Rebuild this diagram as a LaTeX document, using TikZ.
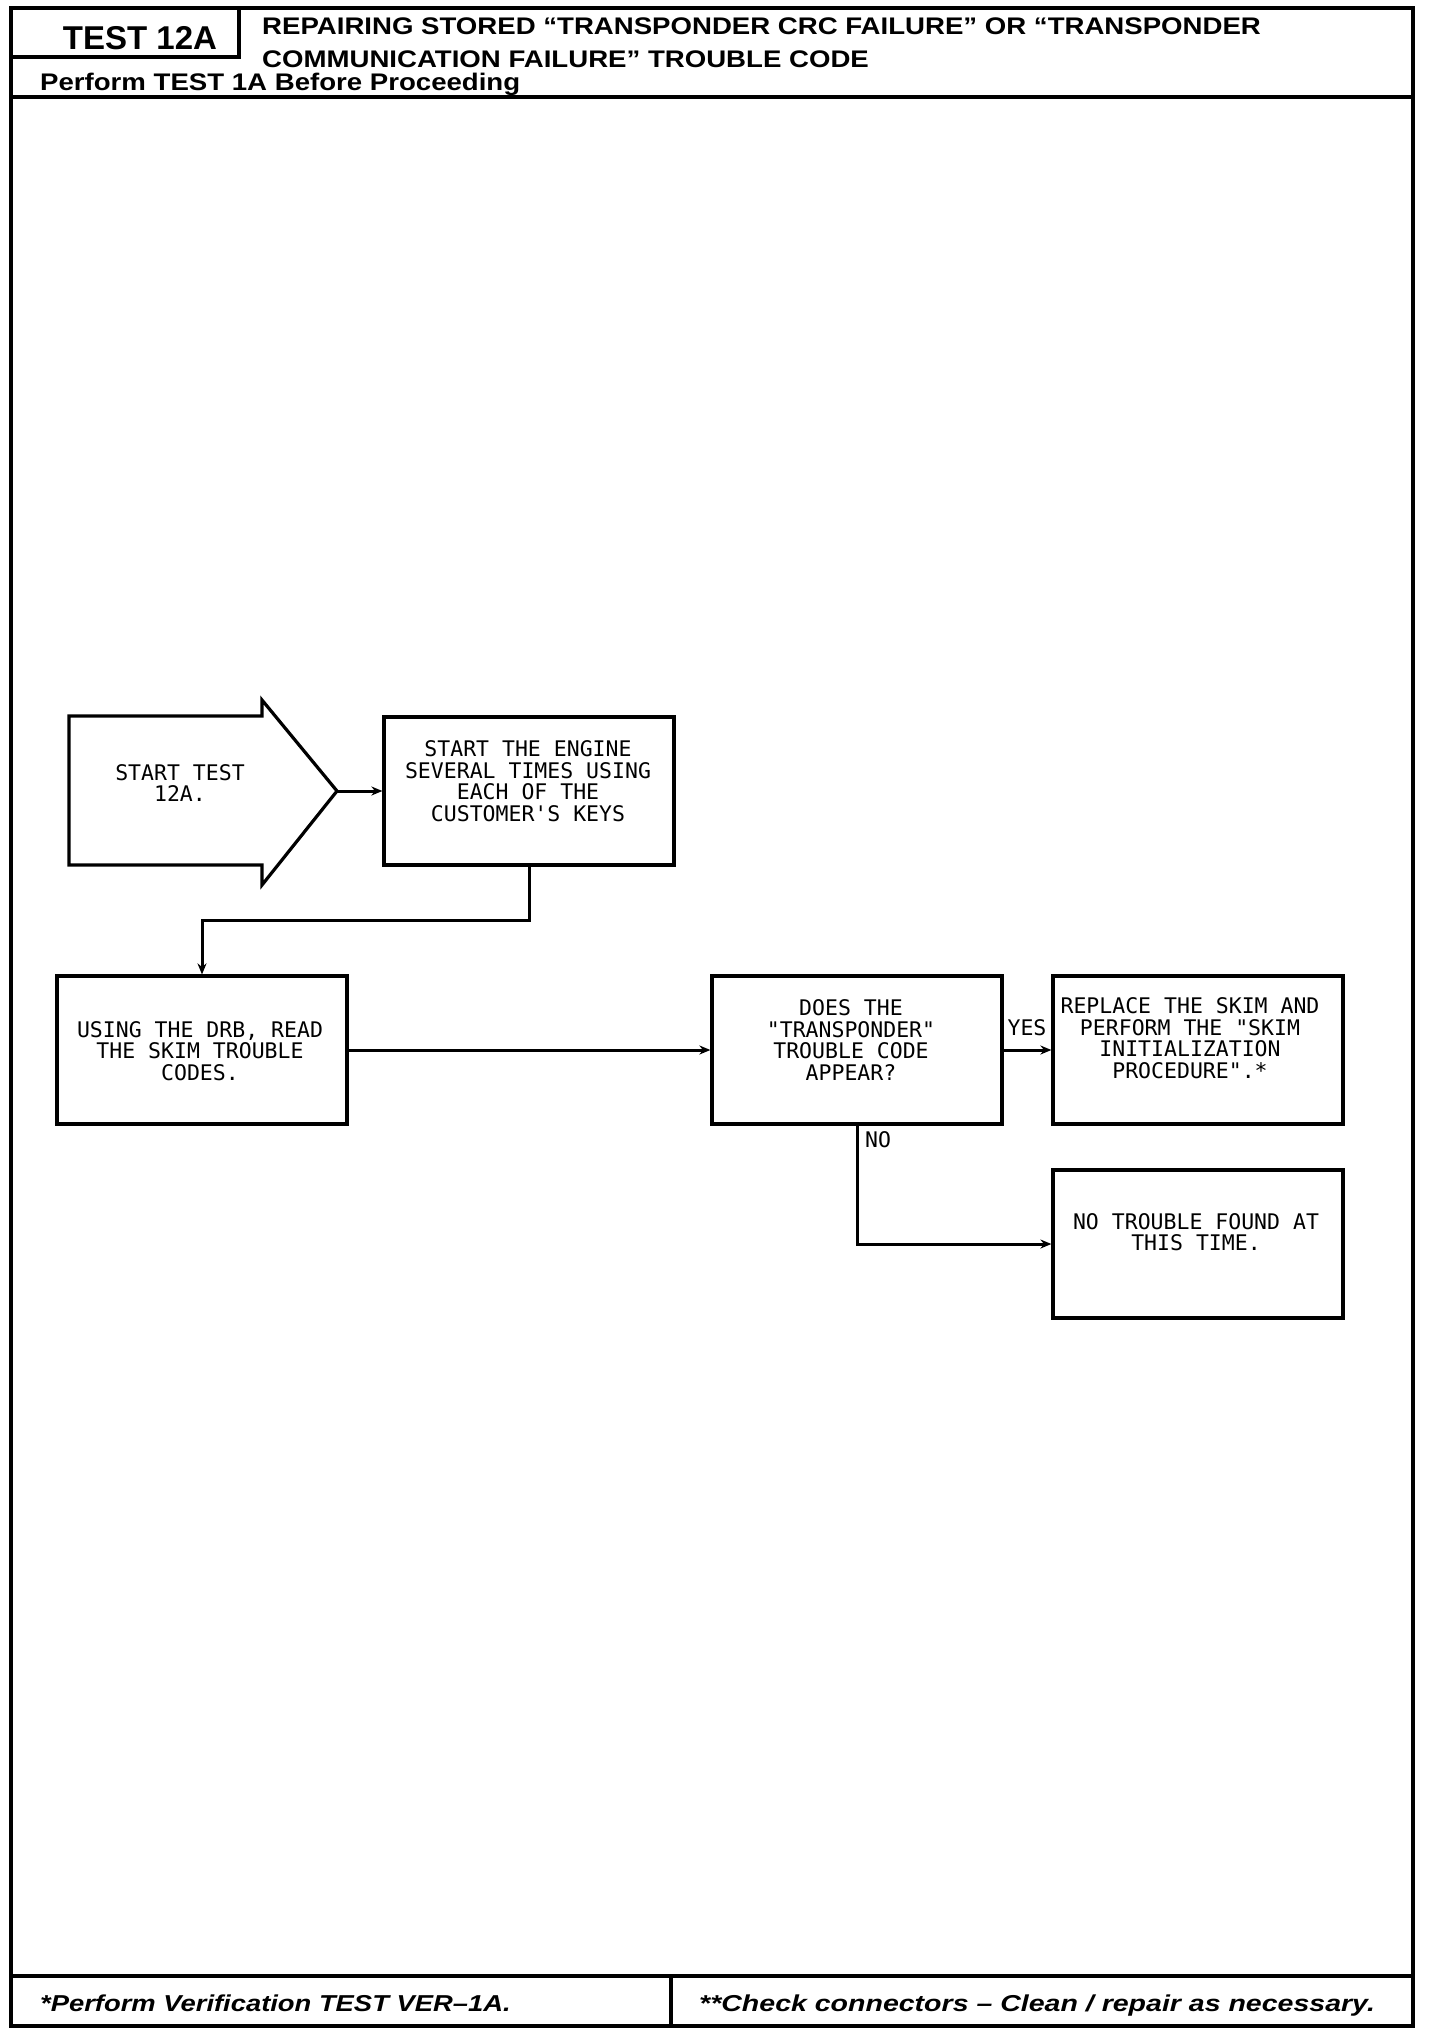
\documentclass[tikz,border=0pt]{standalone}
\usepackage{fontspec}
\setmainfont{Liberation Sans}
\newfontfamily\monof{DejaVu Sans Mono}
\usetikzlibrary{arrows.meta}
\begin{document}
\begin{tikzpicture}[x=1pt,y=-1pt,
  frame/.style={line width=3.8pt},
  box/.style={draw, line width=3.2pt, minimum width=290pt, minimum height=148pt, inner sep=0pt},
  txt/.style={font=\monof\fontsize{21.5}{21.5}\selectfont, align=center, inner sep=0pt},
  lbl/.style={font=\monof\fontsize{21.5}{21.5}\selectfont, inner sep=0pt},
  conn/.style={line width=3pt, -{Stealth[length=11pt,width=9pt]}},
  head/.style={font=\bfseries\fontsize{24}{24}\selectfont, inner sep=0pt, anchor=base west},
  foot/.style={font=\bfseries\itshape\fontsize{23}{23}\selectfont, inner sep=0pt, anchor=base west}]
\useasboundingbox (0,0) rectangle (1440,2034);
\fill[white] (0,0) rectangle (1440,2034);
% frame
\draw[frame] (11,8) rectangle (1413,2026);
\draw[frame] (11,97) -- (1413,97);
\draw[frame] (239,8) -- (239,57) -- (11,57);
\draw[frame] (11,1976) -- (1413,1976);
\draw[frame] (671,1976) -- (671,2026);
% header texts
\node[font=\bfseries\fontsize{33}{33}\selectfont, inner sep=0pt, anchor=base] (testno) at (140,49) {TEST 12A};
\node[head] (title1) at (262,35) {\scalebox{1.15}[1]{REPAIRING STORED “TRANSPONDER CRC FAILURE” OR “TRANSPONDER}};
\node[head] (title2) at (262,67) {\scalebox{1.15}[1]{COMMUNICATION FAILURE” TROUBLE CODE}};
\node[head] (pre) at (40,90) {\scalebox{1.15}[1]{Perform TEST 1A Before Proceeding}};
% footer texts
\node[foot] (f1) at (40,2011) {\scalebox{1.19}[1]{*Perform Verification TEST VER–1A.}};
\node[foot] (f2) at (699,2011) {\scalebox{1.24}[1]{**Check connectors – Clean / repair as necessary.}};
% start arrow
\draw[line width=3.2pt, line join=miter] (69,716) -- (262,716) -- (262,700) -- (337,791) -- (262,885) -- (262,865) -- (69,865) -- cycle;
\coordinate (starttip) at (337,791);
\node[txt] (t1) at (180,783) {START TEST\\12A.};
% boxes
\node[box] (b2) at (529,791) {};
\node[txt] (t2) at (528,781) {START THE ENGINE\\SEVERAL TIMES USING\\EACH OF THE\\CUSTOMER'S KEYS};
\node[box] (b3) at (202,1050) {};
\node[txt] (t3) at (200,1051) {USING THE DRB, READ\\THE SKIM TROUBLE\\CODES.};
\node[box] (b4) at (857,1050) {};
\node[txt] (t4) at (851,1040) {DOES THE\\"TRANSPONDER"\\TROUBLE CODE\\APPEAR?};
\node[box] (b5) at (1198,1050) {};
\node[txt] (t5) at (1190,1038) {REPLACE THE SKIM AND\\PERFORM THE "SKIM\\INITIALIZATION\\PROCEDURE".*};
\node[box] (b6) at (1198,1244) {};
\node[txt] (t6) at (1196,1232) {NO TROUBLE FOUND AT\\THIS TIME.};
% connectors
\draw[conn] (starttip) -- (b2.west);
\coordinate (j1) at (0,920);
\draw[conn] (b2.south) -- (b2.south |- j1) -| (b3.north);
\draw[conn] (b3.east) -- (b4.west);
\draw[conn] (b4.east) -- (b5.west);
\node[lbl, anchor=base] (yes) at (1027,1035) {YES};
\draw[conn] (b4.south) |- (b6.west);
\node[lbl, anchor=north west] (no) at (865,1131) {NO};
\end{tikzpicture}
\end{document}
